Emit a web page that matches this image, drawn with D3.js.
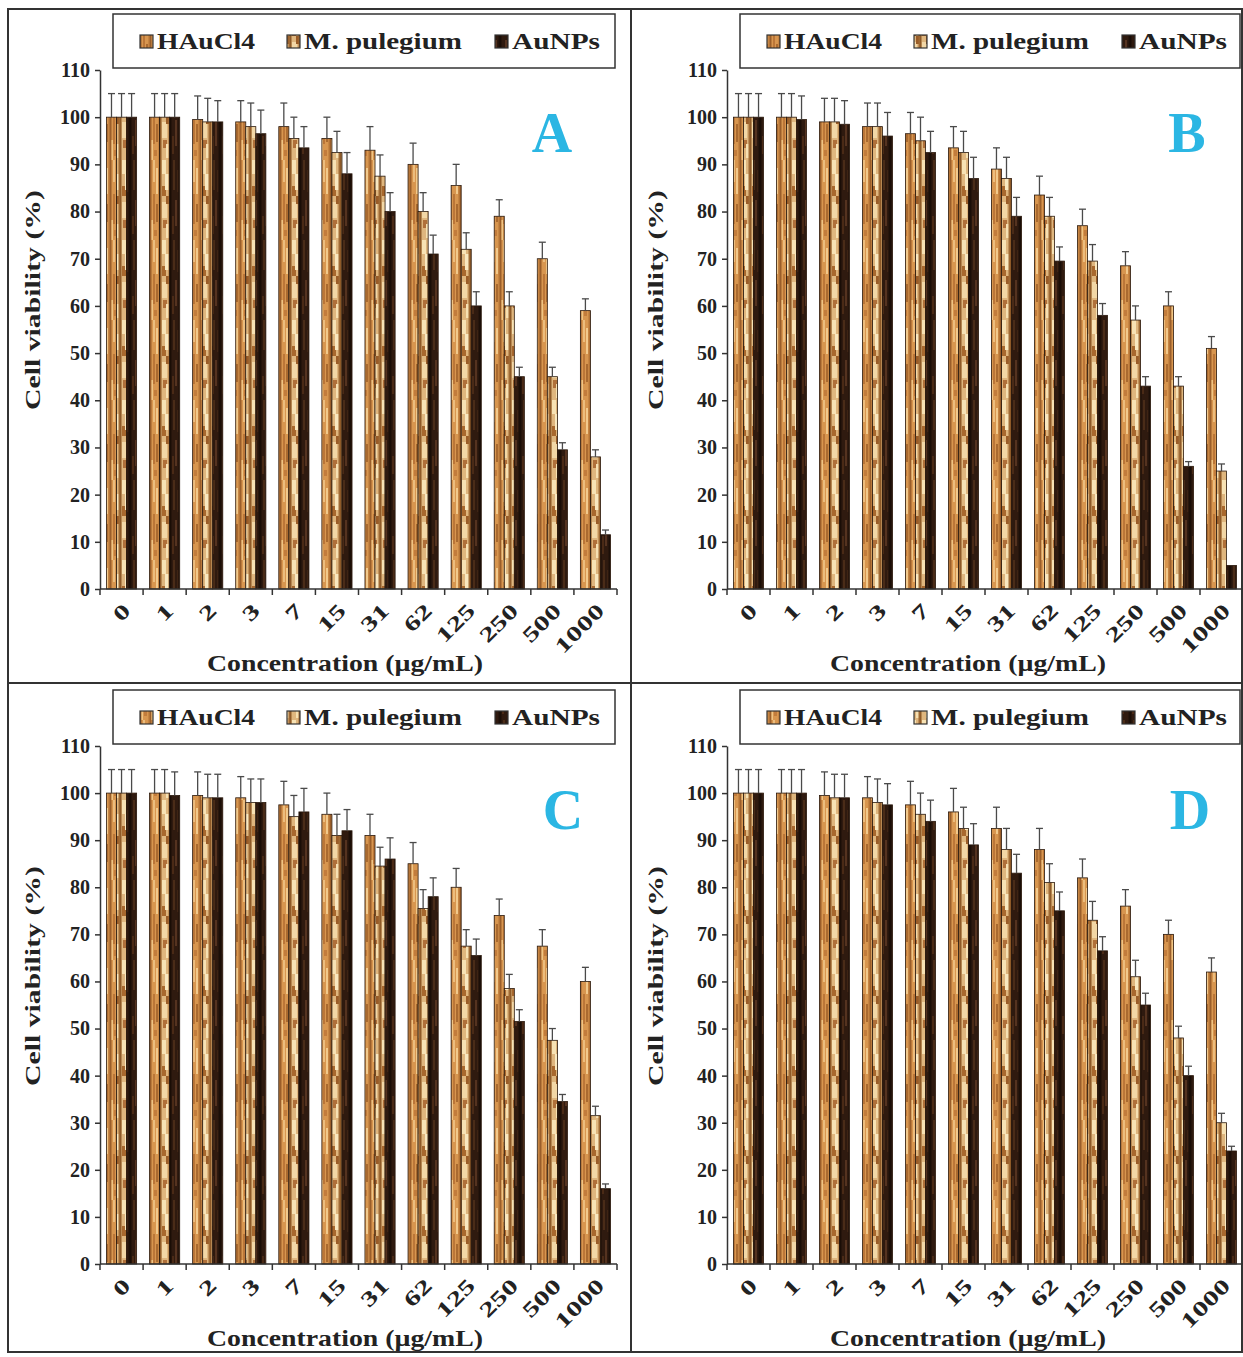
<!DOCTYPE html>
<html><head><meta charset="utf-8">
<script src="https://cdn.jsdelivr.net/npm/d3@7"></script>
<style>body{margin:0;background:#fff}svg{display:block}</style>
</head><body>
<svg id="chart" width="1243" height="1357"></svg>
<script>
// ---------- data ----------
const concentrations = ["0","1","2","3","7","15","31","62","125","250","500","1000"];
const seriesNames = ["HAuCl4","M. pulegium","AuNPs"];
const yTicks = [0,10,20,30,40,50,60,70,80,90,100,110];
const panelLetters = ["A","B","C","D"];

const hauA = [100,100,99.5,99,98,95.5,93,90,85.5,79,70,59];
const mpA  = [100,100,99,98,95.5,92.5,87.5,80,72,60,45,28];
const auA  = [100,100,99,96.5,93.5,88,80,71,60,45,29.5,11.5];
const hauAErr = [5,5,5,4.5,5,4.5,5,4.5,4.5,3.5,3.5,2.5];
const mpAErr  = [5,5,5,5,4.5,4.5,4.5,4,3.5,3,2,1.5];
const auAErr  = [5,5,4.5,5,4.5,4.5,4,4,3,2,1.5,1];

const hauB = [100,100,99,98,96.5,93.5,89,83.5,77,68.5,60,51];
const mpB  = [100,100,99,98,95,92.5,87,79,69.5,57,43,25];
const auB  = [100,99.5,98.5,96,92.5,87,79,69.5,58,43,26,5];
const hauBErr = [5,5,5,5,4.5,4.5,4.5,4,3.5,3,3,2.5];
const mpBErr  = [5,5,5,5,5,4.5,4.5,4,3.5,3,2,1.5];
const auBErr  = [5,5,5,5,4.5,4.5,4,3,2.5,2,1,0];

const hauC = [100,100,99.5,99,97.5,95.5,91,85,80,74,67.5,60];
const mpC  = [100,100,99,98,95,91,84.5,75.5,67.5,58.5,47.5,31.5];
const auC  = [100,99.5,99,98,96,92,86,78,65.5,51.5,34.5,16];
const hauCErr = [5,5,5,4.5,5,4.5,4.5,4.5,4,3.5,3.5,3];
const mpCErr  = [5,5,5,5,4.5,4.5,4,4,3.5,3,2.5,2];
const auCErr  = [5,5,5,5,5,4.5,4.5,4,3.5,2.5,1.5,1];

const hauD = [100,100,99.5,99,97.5,96,92.5,88,82,76,70,62];
const mpD  = [100,100,99,98,95.5,92.5,88,81,73,61,48,30];
const auD  = [100,100,99,97.5,94,89,83,75,66.5,55,40,24];
const hauDErr = [5,5,5,4.5,5,5,4.5,4.5,4,3.5,3,3];
const mpDErr  = [5,5,5,5,4.5,4.5,4.5,4,4,3.5,2.5,2];
const auDErr  = [5,5,5,4.5,4.5,4.5,4,4,3,2.5,2,1];

const panelValues = [[hauA,mpA,auA],[hauB,mpB,auB],[hauC,mpC,auC],[hauD,mpD,auD]];
const panelErrors = [[hauAErr,mpAErr,auAErr],[hauBErr,mpBErr,auBErr],[hauCErr,mpCErr,auCErr],[hauDErr,mpDErr,auDErr]];

// ---------- layout ----------
const panels = [
  {x0:100, x1:617,  yTop:70,  yBot:589,  lg:[113,14,502,54],  letter:[552,152], yT:[32,300], xT:[345,671]},
  {x0:727, x1:1243, yTop:70,  yBot:589,  lg:[740,14,500,54],  letter:[1187,152],yT:[655,300], xT:[968,671]},
  {x0:100, x1:617,  yTop:746, yBot:1264, lg:[113,690,502,54], letter:[563,829], yT:[32,976], xT:[345,1346]},
  {x0:727, x1:1243, yTop:746, yBot:1264, lg:[740,690,500,54], letter:[1190,829],yT:[655,976], xT:[968,1346]}
];
const FONT = "'Liberation Serif','Times New Roman',serif";

const svg = d3.select("#chart");
const defs = svg.append("defs");

// wood-like textures for bars
const textures = {
  hau: {base:"#d8964f", rects:[[0,0,1.5,80,"#9a5e2a"],[3,0,2,22,"#ecbd7e"],[3,34,2,30,"#bb7638"],[6,8,2,26,"#f2c98c"],[6,44,2,18,"#aa6a30"],[8.5,0,1.5,80,"#b57436"],[1.5,60,1.5,20,"#f0c585"],[4,70,3,6,"#c27c3c"]]},
  mp:  {base:"#dfb67e", rects:[[0,0,1.5,80,"#8e5a28"],[2,0,4,14,"#f7e2b4"],[2,26,4,10,"#a8682e"],[5,14,4,16,"#f9e8c0"],[2,42,5,16,"#f2d7a6"],[6,36,3,8,"#9a5c28"],[3,60,4,8,"#b0703a"],[6,64,3,14,"#f6e0b2"],[8.5,0,1.5,80,"#a06a34"]]},
  au:  {base:"#2f1a0f", rects:[[0,0,1.5,80,"#1a0d06"],[3,0,2,30,"#4a2c18"],[5,40,2,26,"#553320"],[7,10,1.5,22,"#3e2414"],[2,56,2,18,"#4a2a16"],[8.5,0,1.5,80,"#1c0f08"]]}
};
Object.entries(textures).forEach(([k,t])=>{
  const p = defs.append("pattern").attr("id","tex-"+k).attr("patternUnits","userSpaceOnUse")
    .attr("width",10).attr("height",80);
  p.append("rect").attr("width",10).attr("height",80).attr("fill",t.base);
  t.rects.forEach(r=>p.append("rect").attr("x",r[0]).attr("y",r[1]).attr("width",r[2]).attr("height",r[3]).attr("fill",r[4]));
});
const fills = ["url(#tex-hau)","url(#tex-mp)","url(#tex-au)"];

// outer frame & dividers
svg.append("rect").attr("x",8).attr("y",9).attr("width",1234).attr("height",1343)
  .attr("fill","none").attr("stroke","#333").attr("stroke-width",2);
svg.append("line").attr("x1",631).attr("x2",631).attr("y1",9).attr("y2",1352).attr("stroke","#333").attr("stroke-width",2);
svg.append("line").attr("x1",8).attr("x2",1242).attr("y1",683).attr("y2",683).attr("stroke","#333").attr("stroke-width",2);

const legendLen = [98,158,88];

panels.forEach((P,pi)=>{
  const g = svg.append("g");
  const x = d3.scaleBand().domain(concentrations).range([P.x0,P.x1]).paddingInner(0.3).paddingOuter(0.15);
  const xs = d3.scaleBand().domain(seriesNames).range([0,x.bandwidth()]);
  const y = d3.scaleLinear().domain([0,110]).range([P.yBot,P.yTop]);
  const vals = panelValues[pi], errs = panelErrors[pi];

  // bars
  seriesNames.forEach((s,si)=>{
    g.append("g").selectAll("rect").data(concentrations).join("rect")
      .attr("x",c=>x(c)+xs(s)).attr("width",xs.bandwidth())
      .attr("y",(c,i)=>y(vals[si][i])).attr("height",(c,i)=>y(0)-y(vals[si][i]))
      .attr("fill",fills[si]).attr("stroke","#2a180c").attr("stroke-width",0.8);
  });
  // error bars (upper only)
  seriesNames.forEach((s,si)=>{
    const eg = g.append("g").attr("stroke","#4a4a4a").attr("stroke-width",1.3);
    concentrations.forEach((c,i)=>{
      if(errs[si][i] <= 0) return;
      const cx = x(c)+xs(s)+xs.bandwidth()/2;
      eg.append("line").attr("x1",cx).attr("x2",cx).attr("y1",y(vals[si][i])).attr("y2",y(vals[si][i]+errs[si][i]));
      eg.append("line").attr("x1",cx-3.5).attr("x2",cx+3.5).attr("y1",y(vals[si][i]+errs[si][i])).attr("y2",y(vals[si][i]+errs[si][i]));
    });
  });

  // y axis
  const ya = g.append("g").attr("transform",`translate(${P.x0},0)`)
    .call(d3.axisLeft(y).tickValues(yTicks).tickSize(5).tickSizeOuter(0).tickPadding(5));
  ya.select(".domain").attr("stroke","#333").attr("stroke-width",1.5);
  ya.selectAll(".tick line").attr("stroke","#333").attr("stroke-width",1.5);
  ya.selectAll("text").attr("font-family",FONT).attr("font-weight","bold").attr("font-size",20).attr("fill","#222");

  // x axis: ticks at group boundaries
  const step = x.step();
  const xa = g.append("g").attr("transform",`translate(0,${P.yBot})`);
  xa.append("line").attr("x1",P.x0).attr("x2",P.x1).attr("stroke","#333").attr("stroke-width",1.5);
  const bounds = concentrations.map(c=>x(c)-step*0.15).concat([P.x1]);
  xa.selectAll("line.tk").data(bounds).join("line").attr("class","tk")
    .attr("x1",d=>d).attr("x2",d=>d).attr("y1",0).attr("y2",6).attr("stroke","#333").attr("stroke-width",1.5);
  xa.selectAll("text").data(concentrations).join("text")
    .attr("transform",c=>`translate(${x(c)+x.bandwidth()/2+5},${18}) rotate(-45)`)
    .attr("text-anchor","end").attr("dy","0.35em")
    .attr("font-family",FONT).attr("font-weight","bold").attr("font-size",21).attr("fill","#222")
    .attr("textLength",c=>c.length*15).attr("lengthAdjust","spacingAndGlyphs")
    .text(c=>c);

  // axis titles
  g.append("text").attr("transform",`translate(${P.yT[0]},${P.yT[1]}) rotate(-90)`)
    .attr("text-anchor","middle").attr("dy","0.35em")
    .attr("font-family",FONT).attr("font-weight","bold").attr("font-size",22).attr("fill","#222")
    .attr("textLength",220).attr("lengthAdjust","spacingAndGlyphs")
    .text("Cell viability (%)");
  g.append("text").attr("x",P.xT[0]).attr("y",P.xT[1]).attr("text-anchor","middle")
    .attr("font-family",FONT).attr("font-weight","bold").attr("font-size",23).attr("fill","#222")
    .attr("textLength",276).attr("lengthAdjust","spacingAndGlyphs")
    .text("Concentration (µg/mL)");

  // panel letter
  g.append("text").attr("x",P.letter[0]).attr("y",P.letter[1]).attr("text-anchor","middle")
    .attr("font-family",FONT).attr("font-weight","bold").attr("font-size",56).attr("fill","#2bb6e3")
    .text(panelLetters[pi]);

  // legend
  const L = g.append("g");
  L.append("rect").attr("x",P.lg[0]).attr("y",P.lg[1]).attr("width",P.lg[2]).attr("height",P.lg[3])
    .attr("fill","#fff").attr("stroke","#333").attr("stroke-width",1.5);
  const itemX = [27,174,382];
  seriesNames.forEach((s,si)=>{
    const lx = P.lg[0]+itemX[si], ly = P.lg[1]+P.lg[3]/2;
    L.append("rect").attr("x",lx).attr("y",ly-6).attr("width",13).attr("height",13)
      .attr("fill",fills[si]).attr("stroke","#333").attr("stroke-width",1.2);
    L.append("text").attr("x",lx+17).attr("y",ly).attr("dy","0.35em")
      .attr("font-family",FONT).attr("font-weight","bold").attr("font-size",23).attr("fill","#222")
      .attr("textLength",legendLen[si]).attr("lengthAdjust","spacingAndGlyphs")
      .text(s);
  });
});
</script>
</body></html>
